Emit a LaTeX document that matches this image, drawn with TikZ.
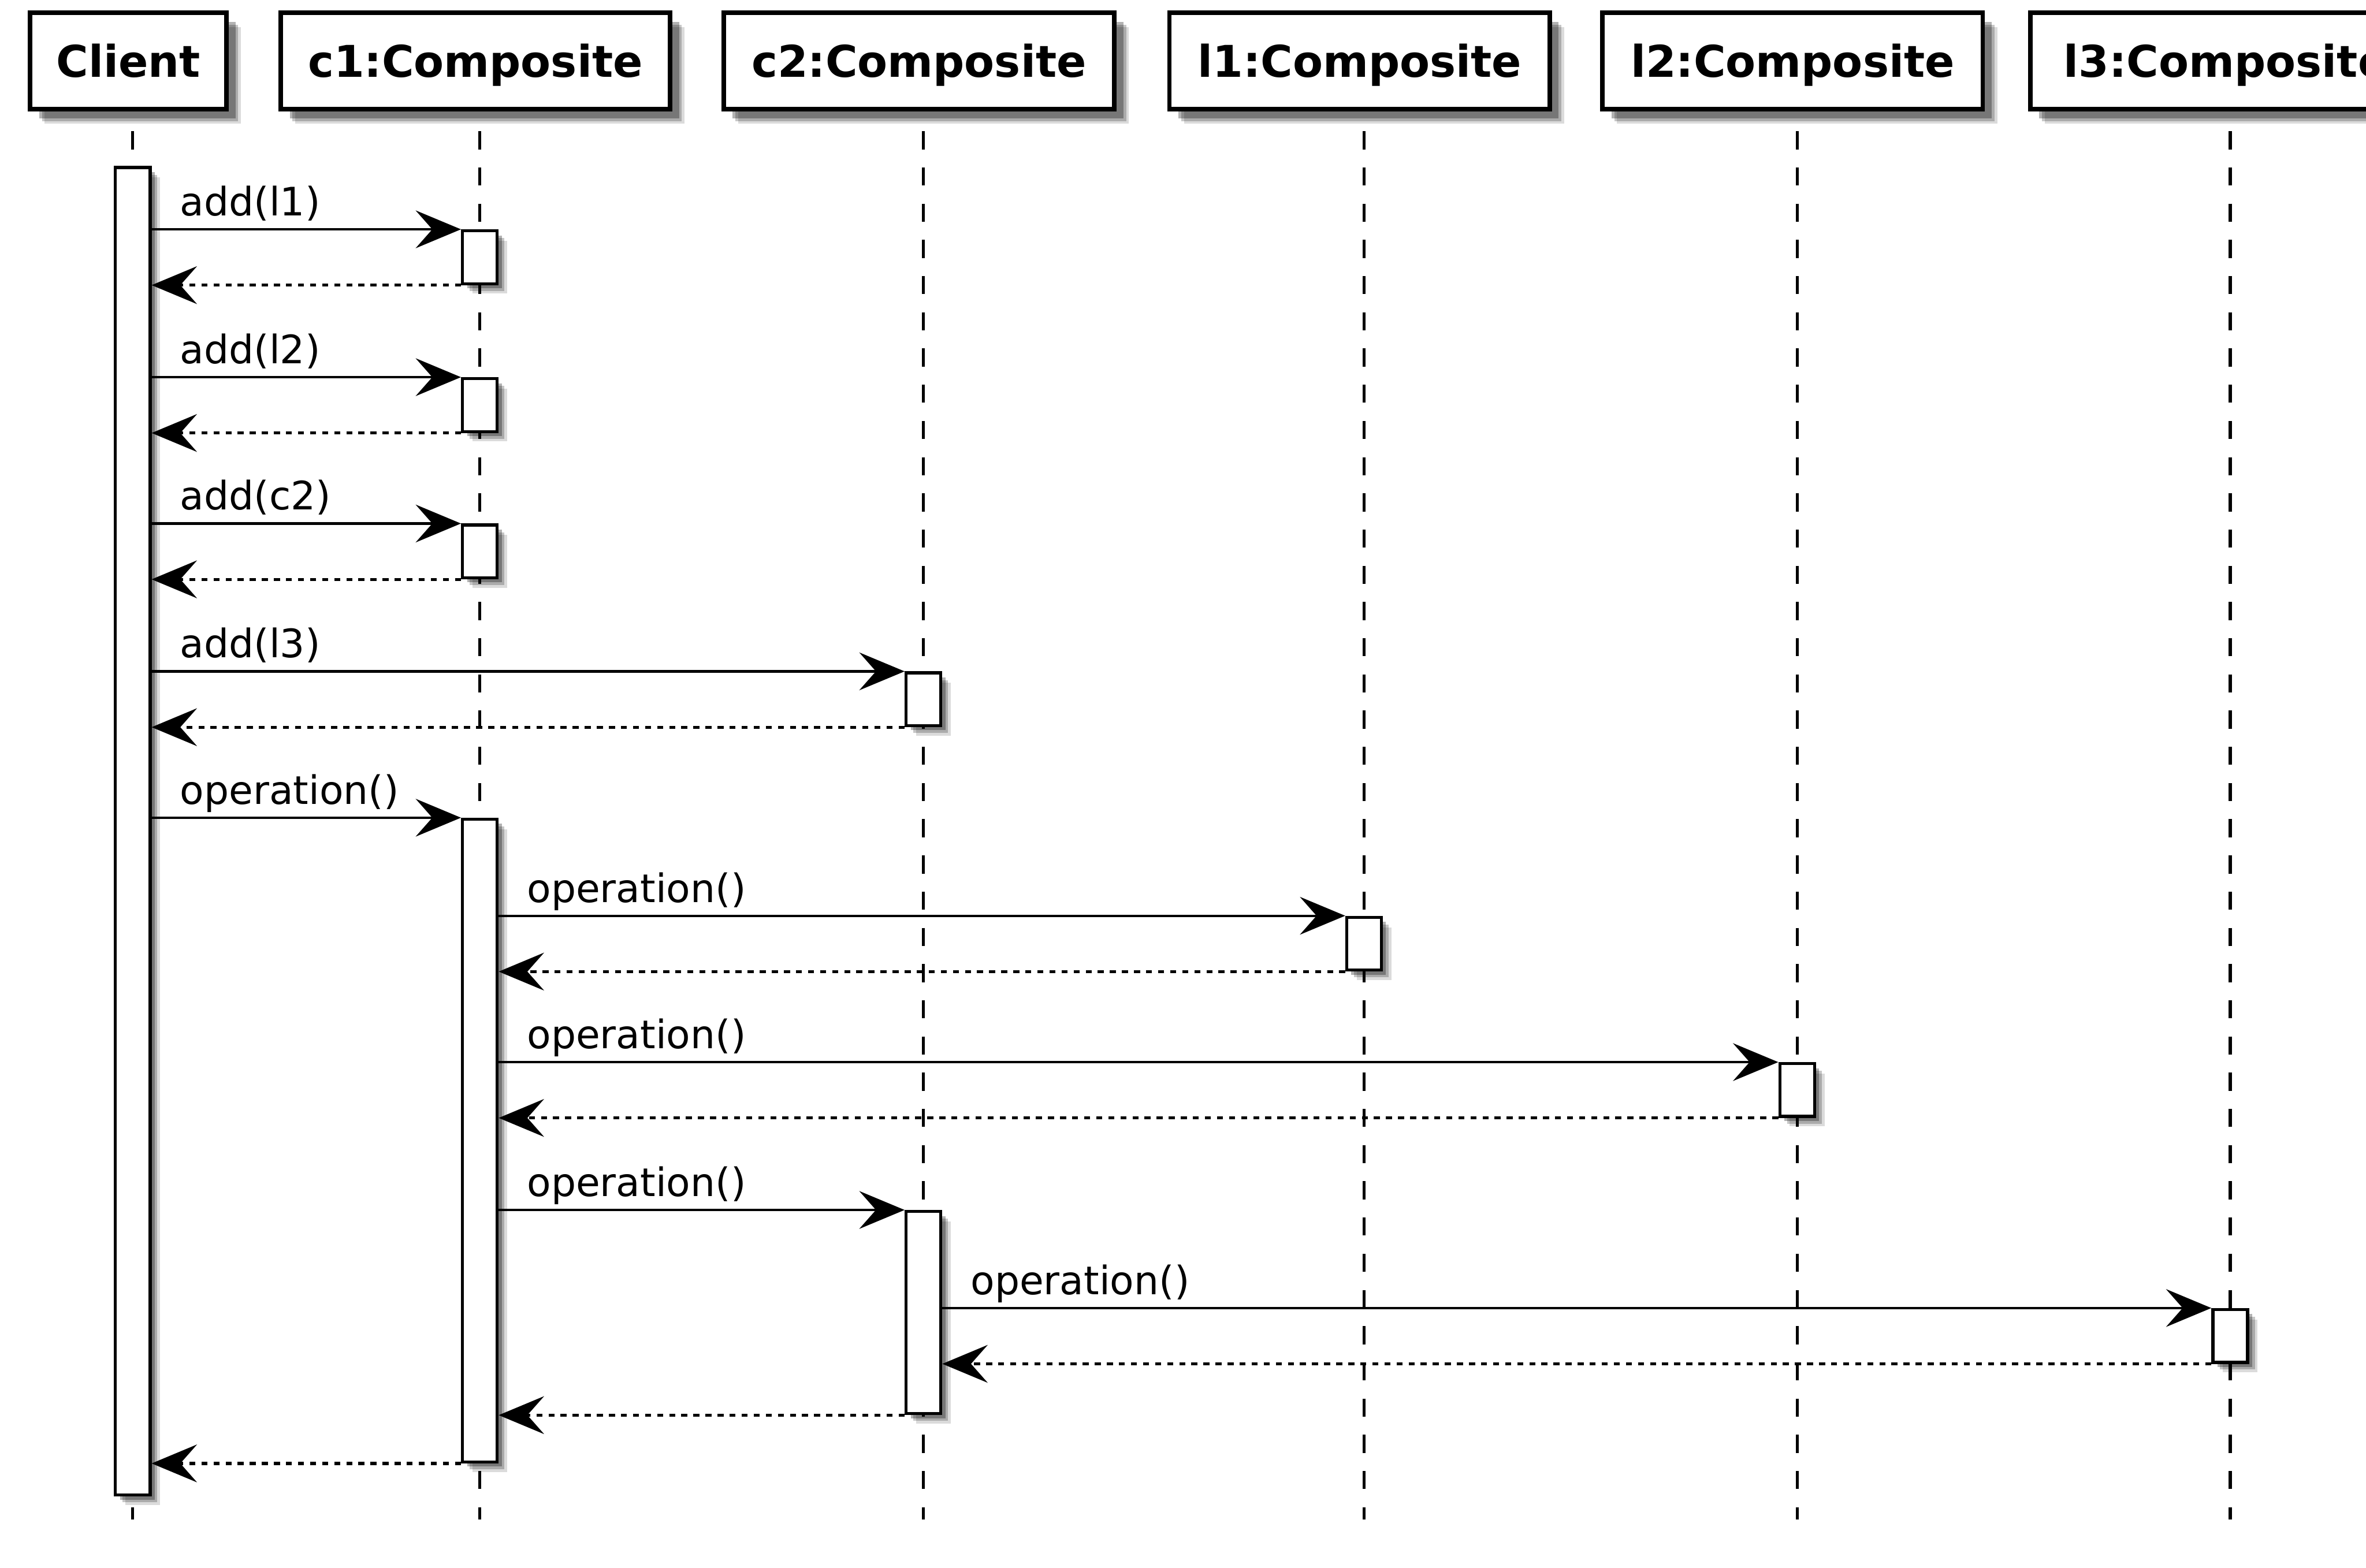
\documentclass[tikz,border=0pt]{standalone}
\usepackage{fontspec}
\setmainfont{DejaVu Sans}
\usetikzlibrary{arrows.meta,shadows}

\begin{document}
\begin{tikzpicture}[x=0.5pt,y=-0.5pt,
						soft/.style={drop shadow={shadow xshift=#1, shadow yshift=-#1, fill=black, opacity=0.3}, drop shadow={shadow xshift=#1+0.9pt, shadow yshift=-#1-0.9pt, fill=black, opacity=0.22}, drop shadow={shadow xshift=#1+1.8pt, shadow yshift=-#1-1.8pt, fill=black, opacity=0.14}},
						head/.style={draw, line width=1.5pt, fill=white, minimum height=32pt, inner sep=0pt, text height=10.6pt, text depth=0pt, font=\fontsize{14.5}{17}\selectfont\bfseries, soft=3pt},
						bar/.style={draw, line width=1pt, fill=white, minimum width=11.5pt, inner sep=0pt, soft=1.5pt},
						lifeline/.style={line width=1pt, dash pattern=on 6pt off 6pt},
						call/.style={->, line width=0.8pt},
						reply/.style={->, line width=1pt, dash pattern=on 2pt off 2pt},
						msg/.style={anchor=base west, inner sep=0pt, font=\fontsize{13}{15}\selectfont, at start, xshift=9pt, yshift=4.5pt},
						>={Stealth[length=15pt,width=12.5pt,inset=5.5pt]}]
					\useasboundingbox (0,0) rectangle (1568,1039);
					\clip (0,0) rectangle (1568,1039);
					
					\foreach \n/\x/\w/\t in {client/88/65/Client, c1/318/129/c1:Composite, c2/612/129.5/c2:Composite, l1/904/126/l1:Composite, l2/1191/126/l2:Composite, l3/1478/129.5/l3:Composite}{
						\draw[lifeline] (\x,87) -- (\x,1007);
						\node[head, minimum width=\w pt] (\n) at (\x-3,40.5) {\t};
					}
					
					\node[bar, minimum height=440pt] (cl) at (88,551) {};
					\node[bar, minimum height=17.5pt] (ca1) at (318,170.5) {};
					\node[bar, minimum height=17.5pt] (ca2) at (318,268.5) {};
					\node[bar, minimum height=17.5pt] (ca3) at (318,365.5) {};
					\node[bar, minimum height=17.5pt] (cb1) at (612,463.5) {};
					\node[bar, minimum height=213pt] (ca4) at (318,756) {};
					\node[bar, minimum height=17.5pt] (la) at (904,625.5) {};
					\node[bar, minimum height=17.5pt] (lb) at (1191,722.5) {};
					\node[bar, minimum height=67pt] (cb2) at (612,870) {};
					\node[bar, minimum height=17.5pt] (lc) at (1478,885.5) {};
					
					\draw[call] (cl.east |- ca1.north west) -- node[msg] {add(l1)} (ca1.north west);
					\draw[reply] (ca1.south west) -- (cl.east |- ca1.south west);
					\draw[call] (cl.east |- ca2.north west) -- node[msg] {add(l2)} (ca2.north west);
					\draw[reply] (ca2.south west) -- (cl.east |- ca2.south west);
					\draw[call] (cl.east |- ca3.north west) -- node[msg] {add(c2)} (ca3.north west);
					\draw[reply] (ca3.south west) -- (cl.east |- ca3.south west);
					\draw[call] (cl.east |- cb1.north west) -- node[msg] {add(l3)} (cb1.north west);
					\draw[reply] (cb1.south west) -- (cl.east |- cb1.south west);
					
					\draw[call] (cl.east |- ca4.north west) -- node[msg] {operation()} (ca4.north west);
					\draw[call] (ca4.east |- la.north west) -- node[msg] {operation()} (la.north west);
					\draw[reply] (la.south west) -- (ca4.east |- la.south west);
					\draw[call] (ca4.east |- lb.north west) -- node[msg] {operation()} (lb.north west);
					\draw[reply] (lb.south west) -- (ca4.east |- lb.south west);
					\draw[call] (ca4.east |- cb2.north west) -- node[msg] {operation()} (cb2.north west);
					\draw[call] (cb2.east |- lc.north west) -- node[msg] {operation()} (lc.north west);
					\draw[reply] (lc.south west) -- (cb2.east |- lc.south west);
					\draw[reply] (cb2.south west) -- (ca4.east |- cb2.south west);
					\draw[reply] (ca4.south west) -- (cl.east |- ca4.south west);
				\end{tikzpicture}
\end{document}
